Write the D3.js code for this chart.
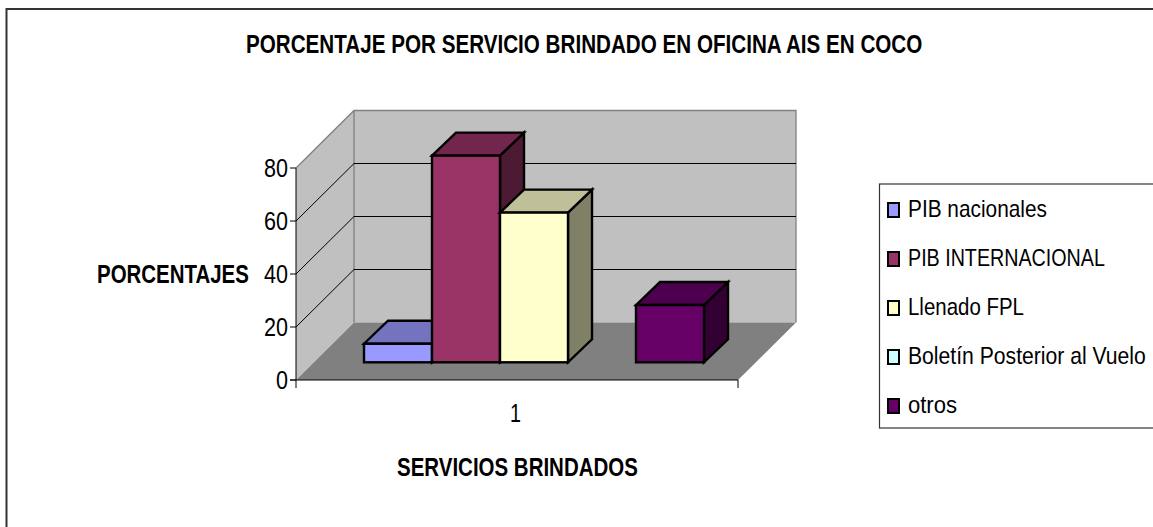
<!DOCTYPE html>
<html><head><meta charset="utf-8">
<script src="https://cdn.jsdelivr.net/npm/d3@7/dist/d3.min.js"></script>
<style>html,body{margin:0;padding:0;background:#fff}svg{display:block}text{font-family:"Liberation Sans",Arial,sans-serif;fill:#000}</style>
</head><body><svg id="c" width="1153" height="527"></svg>
<script>
const chartTitle = "PORCENTAJE POR SERVICIO BRINDADO EN OFICINA AIS EN COCO";
const yTitle = "PORCENTAJES";
const xTitle = "SERVICIOS BRINDADOS";
const categoryLabels = ["1"];
const seriesNames = ["PIB nacionales","PIB INTERNACIONAL","Llenado FPL","Boletín Posterior al Vuelo","otros"];
const seriesValues = [7, 78, 56.5, 0, 21.6];
const seriesFront = ["#9999ff","#993366","#ffffcc","#ccffff","#660066"];
const seriesTop = ["#7373bf","#73264d","#bfbf99","#99bfbf","#4d004d"];
const seriesSide = ["#4d4d80","#4d1a33","#808066","#668080","#330033"];
const yTicks = [0,20,40,60,80];
const legendWidths = [139,197,116,238,49];

const svg = d3.select("#c");
const y = d3.scaleLinear().domain([0,80]).range([380,168]);
const x0 = d3.scaleBand().domain(categoryLabels).range([296,738]);
const barX = d3.scaleBand().domain(seriesNames).range([0,340]);
const wallD = {dx:58, dy:-57.5};
const barOff = {dx:17, dy:-17.7};
const barD = {dx:24, dy:-23};
const path = p => "M"+p.map(q=>q.join(",")).join("L")+"Z";
const catCenter = x0(categoryLabels[0]) + x0.bandwidth()/2 + barOff.dx;
const xs = d => catCenter - 170 + barX(d);

// draws text squeezed horizontally to a given width, left edge at x
function fit(t, x, yy, fs, w, weight){
  const n = svg.append("text").attr("font-size",fs).attr("font-weight",weight||"normal").text(t);
  const sx = w / n.node().getComputedTextLength();
  n.attr("transform",`translate(${x},${yy}) scale(${sx},1)`);
  return n;
}

// chart frame
svg.append("rect").attr("x",6.5).attr("y",9).attr("width",1160).attr("height",530).attr("fill","#fff").attr("stroke","#333").attr("stroke-width",2);

const L=x0.range()[0], R=x0.range()[1], B=y(0), T=y(80);
// walls and floor
svg.append("path").attr("d",path([[L,B],[L,T],[L+wallD.dx,T+wallD.dy],[L+wallD.dx,B+wallD.dy]])).attr("fill","#c0c0c0");
svg.append("path").attr("d",path([[L+wallD.dx,B+wallD.dy],[L+wallD.dx,T+wallD.dy],[R+wallD.dx,T+wallD.dy],[R+wallD.dx,B+wallD.dy]])).attr("fill","#c0c0c0");
svg.append("path").attr("d",path([[L,B],[R,B],[R+wallD.dx,B+wallD.dy],[L+wallD.dx,B+wallD.dy]])).attr("fill","#808080");
svg.append("path").attr("d",`M${L},${T}L${L+wallD.dx},${T+wallD.dy}L${R+wallD.dx},${T+wallD.dy}L${R+wallD.dx},${B+wallD.dy}M${L+wallD.dx},${T+wallD.dy}L${L+wallD.dx},${B+wallD.dy}`).attr("fill","none").attr("stroke","#808080").attr("stroke-width",1.3);
// gridlines
yTicks.filter(t=>t>0&&t<80).forEach(t=>{
  svg.append("path").attr("d",`M${L},${y(t)}L${L+wallD.dx},${y(t)+wallD.dy}L${R+wallD.dx},${y(t)+wallD.dy}`).attr("fill","none").attr("stroke","#000").attr("stroke-width",1);
});
// axes
svg.append("path").attr("d",`M${L},${T}L${L},${B+8}M${L-6},${B}L${R},${B}M${R},${B}L${R},${B+8}`).attr("fill","none").attr("stroke","#000").attr("stroke-width",1);
yTicks.forEach(t=>{
  svg.append("line").attr("x1",L-6).attr("x2",L).attr("y1",y(t)).attr("y2",y(t)).attr("stroke","#000");
  const w = t?24:12;
  fit(String(t), L-8-w, y(t)+9, 25, w);
});
fit(categoryLabels[0], 510, 422, 25, 11);

// bars
const base = y(0)+barOff.dy;
const scaleH = v => y(0)-y(v);
seriesNames.forEach((name,i)=>{
  const v = seriesValues[i];
  if(!v) return;
  const x1 = xs(name), x2 = x1+barX.bandwidth(), top = base-scaleH(v), g = svg.append("g").attr("stroke","#000").attr("stroke-width",2.4).attr("stroke-linejoin","miter");
  g.append("path").attr("d",path([[x2,top],[x2+barD.dx,top+barD.dy],[x2+barD.dx,base+barD.dy],[x2,base]])).attr("fill",seriesSide[i]);
  g.append("path").attr("d",path([[x1,top],[x1+barD.dx,top+barD.dy],[x2+barD.dx,top+barD.dy],[x2,top]])).attr("fill",seriesTop[i]);
  g.append("rect").attr("x",x1).attr("y",top).attr("width",x2-x1).attr("height",base-top).attr("fill",seriesFront[i]);
});

// titles
fit(chartTitle,246,53,25,677,"bold");
fit(yTitle,97,283,25,152,"bold");
fit(xTitle,397,476,25,241,"bold");

// legend
svg.append("rect").attr("x",879.5).attr("y",184).attr("width",290).attr("height",244).attr("fill","#fff").attr("stroke","#333").attr("stroke-width",1.2);
const legY = d3.scalePoint().domain(seriesNames).range([217,413]);
seriesNames.forEach((n,i)=>{
  svg.append("rect").attr("x",888).attr("y",legY(n)-14).attr("width",11).attr("height",14).attr("fill",seriesFront[i]).attr("stroke","#000").attr("stroke-width",2);
  fit(n,908,legY(n),24,legendWidths[i]);
});
</script></body></html>
